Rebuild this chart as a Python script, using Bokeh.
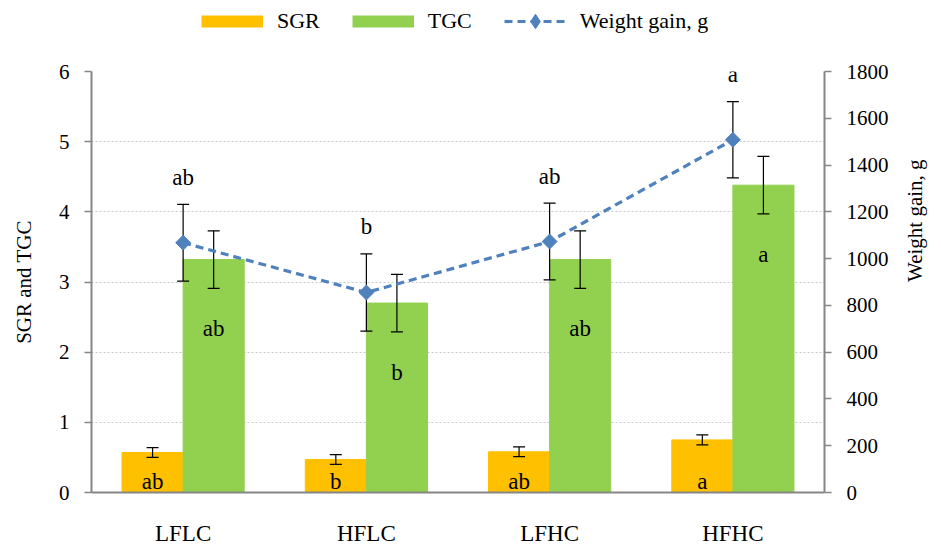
import math

from bokeh.plotting import figure
from bokeh.layouts import column
from bokeh.models import (ColumnDataSource, FactorRange, Range1d, LinearAxis,
                          Legend, LegendItem, FixedTicker)
from bokeh.transform import dodge
from bokeh.core.properties import value
from bokeh.embed import file_html
from bokeh.resources import INLINE

# Diet groups and growth performance (mean ± SD)
groups = ["LFLC", "HFLC", "LFHC", "HFHC"]
sgr = [0.57, 0.47, 0.58, 0.75]
sgr_sd = [0.07, 0.07, 0.07, 0.07]
tgc = [3.32, 2.70, 3.32, 4.38]
tgc_sd = [0.41, 0.41, 0.41, 0.41]
weight_gain = [1068, 855, 1073, 1508]
weight_gain_sd = [164, 165, 164, 163]

# Significance letters
sgr_letters = ["ab", "b", "ab", "a"]
tgc_letters = ["ab", "b", "ab", "a"]
wg_letters = ["ab", "b", "ab", "a"]

left_ticks = [0, 1, 2, 3, 4, 5, 6]
right_ticks = [0, 200, 400, 600, 800, 1000, 1200, 1400, 1600, 1800]

SERIF = "Liberation Serif"
ORANGE = "#FFC000"
GREEN = "#92D050"
BLUE = "#4F81BD"
AXIS_GREY = "#868686"
WG_DASH = "8 5"

src = ColumnDataSource(dict(
    group=groups,
    sgr=sgr, sgr_lo=[m - s for m, s in zip(sgr, sgr_sd)], sgr_hi=[m + s for m, s in zip(sgr, sgr_sd)],
    tgc=tgc, tgc_lo=[m - s for m, s in zip(tgc, tgc_sd)], tgc_hi=[m + s for m, s in zip(tgc, tgc_sd)],
    wg=weight_gain,
    wg_lo=[m - s for m, s in zip(weight_gain, weight_gain_sd)],
    wg_hi=[m + s for m, s in zip(weight_gain, weight_gain_sd)],
    sgr_letter=sgr_letters, tgc_letter=tgc_letters, wg_letter=wg_letters,
))

p = figure(
    x_range=FactorRange(*groups, range_padding=0),
    y_range=Range1d(0, 6),
    width=941, height=508,
    output_backend="svg", toolbar_location=None,
    min_border_left=91, min_border_right=116, min_border_top=31, min_border_bottom=55,
    background_fill_color="white", border_fill_color="white",
)
p.outline_line_color = None
p.extra_y_ranges = {"wg": Range1d(0, 1800)}

x_sgr = dodge("group", -1 / 6, range=p.x_range)
x_tgc = dodge("group", 1 / 6, range=p.x_range)

# Bars
p.vbar(x=x_sgr, top="sgr", width=1 / 3, source=src,
       fill_color=ORANGE, line_color=ORANGE)
p.vbar(x=x_tgc, top="tgc", width=1 / 3, source=src,
       fill_color=GREEN, line_color=GREEN)


def error_bars(xspec, lo, hi, range_name="default"):
    p.segment(x0=xspec, y0=lo, x1=xspec, y1=hi, source=src,
              line_color="black", line_width=1.2, y_range_name=range_name)
    for end in (lo, hi):
        p.scatter(x=xspec, y=end, marker="dash", size=12, source=src,
                  line_color="black", line_width=1.2, y_range_name=range_name)


error_bars(x_sgr, "sgr_lo", "sgr_hi")
error_bars(x_tgc, "tgc_lo", "tgc_hi")
error_bars("group", "wg_lo", "wg_hi", "wg")

# Weight gain line on the secondary axis
p.line(x="group", y="wg", source=src, y_range_name="wg",
       line_color=BLUE, line_width=3.2, line_dash=WG_DASH)
p.scatter(x="group", y="wg", source=src, y_range_name="wg",
          marker="square", angle=math.pi / 4, size=10.5,
          fill_color=BLUE, line_color=BLUE)

# Letters
letter_style = dict(text_font=value(SERIF), text_font_size=value("23px"),
                    text_align="center", text_baseline="alphabetic",
                    text_color="black", source=src)
p.text(x="group", y="wg_hi", text="wg_letter", y_offset=-27,
       y_range_name="wg", **letter_style)
p.text(x=x_tgc, y="tgc", text="tgc_letter", y_offset=69, **letter_style)
p.text(x=x_sgr, y=0, text="sgr_letter", y_offset=-11, **letter_style)

# Axes
p.xgrid.grid_line_color = None
p.ygrid.grid_line_color = "#C8C8C8"
p.ygrid.grid_line_dash = "2 2"
p.ygrid.grid_line_width = 1
p.ygrid.ticker = FixedTicker(ticks=left_ticks)

p.yaxis.ticker = FixedTicker(ticks=left_ticks)
p.yaxis.axis_label = "SGR and TGC"

right_axis = LinearAxis(y_range_name="wg", ticker=FixedTicker(ticks=right_ticks),
                        axis_label="Weight gain, g")
right_axis.axis_label_orientation = math.pi / 2
p.add_layout(right_axis, "right")

for ax in p.yaxis:
    ax.axis_line_color = AXIS_GREY
    ax.axis_line_width = 2
    ax.major_tick_line_color = AXIS_GREY
    ax.major_tick_line_width = 1.5
    ax.major_tick_out = 7
    ax.major_tick_in = 0
    ax.minor_tick_line_color = None
    ax.major_label_text_font = SERIF
    ax.major_label_text_font_size = "21px"
    ax.major_label_text_color = "black"
    ax.major_label_standoff = 15
    ax.axis_label_text_font = SERIF
    ax.axis_label_text_font_size = "21px"
    ax.axis_label_text_font_style = "normal"
    ax.axis_label_text_color = "black"
    ax.axis_label_standoff = 20
right_axis.axis_label_standoff = 23

xa = p.xaxis[0]
xa.axis_line_color = AXIS_GREY
xa.axis_line_width = 2
xa.major_tick_line_color = None
xa.minor_tick_line_color = None
xa.major_label_text_font = SERIF
xa.major_label_text_font_size = "23px"
xa.major_label_text_color = "black"
xa.major_label_standoff = 22

# Legend strip above the chart
lg = figure(width=941, height=40, output_backend="svg", toolbar_location=None,
            x_range=Range1d(0, 1), y_range=Range1d(0, 1),
            x_axis_type=None, y_axis_type=None, min_border=0,
            background_fill_color="white", border_fill_color="white")
lg.outline_line_color = None
lg.grid.visible = False
key = ColumnDataSource(dict(x=[0.5], y=[0.5]))
k_sgr = lg.line("x", "y", source=key, line_color=ORANGE, line_width=12,
                line_cap="butt", visible=False)
k_tgc = lg.line("x", "y", source=key, line_color=GREEN, line_width=12,
                line_cap="butt", visible=False)
k_line = lg.line("x", "y", source=key, line_color=BLUE, line_width=3.2,
                 line_dash=WG_DASH, visible=False)
k_pts = lg.scatter("x", "y", source=key, marker="diamond",
                   fill_color=BLUE, line_color=BLUE, visible=False)

legend = Legend(
    items=[LegendItem(label="SGR", renderers=[k_sgr]),
           LegendItem(label="TGC", renderers=[k_tgc]),
           LegendItem(label="Weight gain, g", renderers=[k_line, k_pts])],
    orientation="horizontal",
    location=(110, 1),
    glyph_width=62, glyph_height=36, label_height=20,
    label_standoff=14, spacing=32,
    label_text_font=SERIF, label_text_font_size="22px", label_text_color="black",
    padding=0, margin=0,
    border_line_color=None, background_fill_alpha=0,
)
lg.add_layout(legend, "center")

open("out.html", "w").write(file_html(column(lg, p, spacing=0), INLINE))
